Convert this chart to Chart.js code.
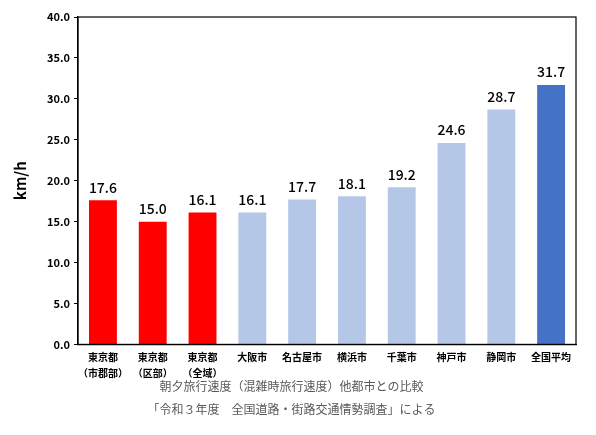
<!DOCTYPE html>
<html>
<head>
<meta charset="utf-8">
<script src="https://cdn.jsdelivr.net/npm/chart.js@4/dist/chart.umd.min.js"></script>
<style>
  html, body { margin: 0; padding: 0; background: #fff; }
  #wrap { width: 596px; height: 435px; position: relative; }
</style>
</head>
<body>
<div id="wrap"><canvas id="chart"></canvas></div>
<script>
// values
const cities = [
  ['東京都', '（市郡部）'], ['東京都', '（区部）'], ['東京都', '（全域）'],
  '大阪市', '名古屋市', '横浜市', '千葉市', '神戸市', '静岡市', '全国平均'
];
const speeds = [17.6, 15.0, 16.1, 16.1, 17.7, 18.1, 19.2, 24.6, 28.7, 31.7];
const barColors = ['#FF0000', '#FF0000', '#FF0000',
  '#B4C7E7', '#B4C7E7', '#B4C7E7', '#B4C7E7', '#B4C7E7', '#B4C7E7', '#4472C4'];
const captionLines = [
  '朝夕旅行速度（混雑時旅行速度）他都市との比較',
  '「令和３年度　全国道路・街路交通情勢調査」による'
];

const jp = '"Noto Sans CJK JP", "Noto Sans", sans-serif';

// value labels over the bars + frame round the plot area
const extras = {
  id: 'extras',
  afterDatasetsDraw(chart) {
    const ctx = chart.ctx;
    const meta = chart.getDatasetMeta(0);
    ctx.save();
    ctx.fillStyle = '#000';
    ctx.font = '500 14px ' + jp;
    ctx.textAlign = 'center';
    ctx.textBaseline = 'bottom';
    meta.data.forEach((bar, i) => {
      ctx.fillText(speeds[i].toFixed(1), bar.x, bar.y - 6);
    });
    const a = chart.chartArea;
    ctx.strokeStyle = '#000';
    ctx.lineWidth = 1.2;
    ctx.strokeRect(a.left, a.top, a.right - a.left, a.bottom - a.top);
    ctx.restore();
  }
};

new Chart(document.getElementById('chart'), {
  type: 'bar',
  data: {
    labels: cities,
    datasets: [{
      data: speeds,
      backgroundColor: barColors,
      categoryPercentage: 1.0,
      barPercentage: 0.56
    }]
  },
  options: {
    responsive: true,
    maintainAspectRatio: false,
    animation: false,
    layout: { padding: { left: 7, right: 20, top: 17, bottom: 14 } },
    plugins: {
      legend: { display: false },
      tooltip: { enabled: false },
      title: {
        display: true,
        position: 'bottom',
        text: captionLines,
        color: '#595959',
        font: { family: jp, size: 12, weight: 'normal', lineHeight: 1.9 },
        padding: { top: -3, bottom: 0 }
      }
    },
    scales: {
      x: {
        grid: { display: false },
        border: { display: true, color: '#000', width: 1.2 },
        ticks: {
          color: '#000',
          font: { family: jp, size: 10, weight: 'bold', lineHeight: 1.6 },
          maxRotation: 0,
          autoSkip: false,
          padding: -3
        }
      },
      y: {
        min: 0,
        max: 40,
        grid: { drawOnChartArea: false, drawTicks: true, tickLength: 4, color: '#000' },
        border: { display: true, color: '#000', width: 1.2 },
        ticks: {
          stepSize: 5,
          color: '#000',
          padding: 4,
          font: { family: jp, size: 11, weight: 'bold' },
          callback: v => v.toFixed(1)
        },
        title: {
          display: true,
          text: 'km/h',
          color: '#000',
          font: { family: jp, size: 15, weight: 'bold' },
          padding: { bottom: 14 }
        }
      }
    }
  },
  plugins: [extras]
});
</script>
</body>
</html>
